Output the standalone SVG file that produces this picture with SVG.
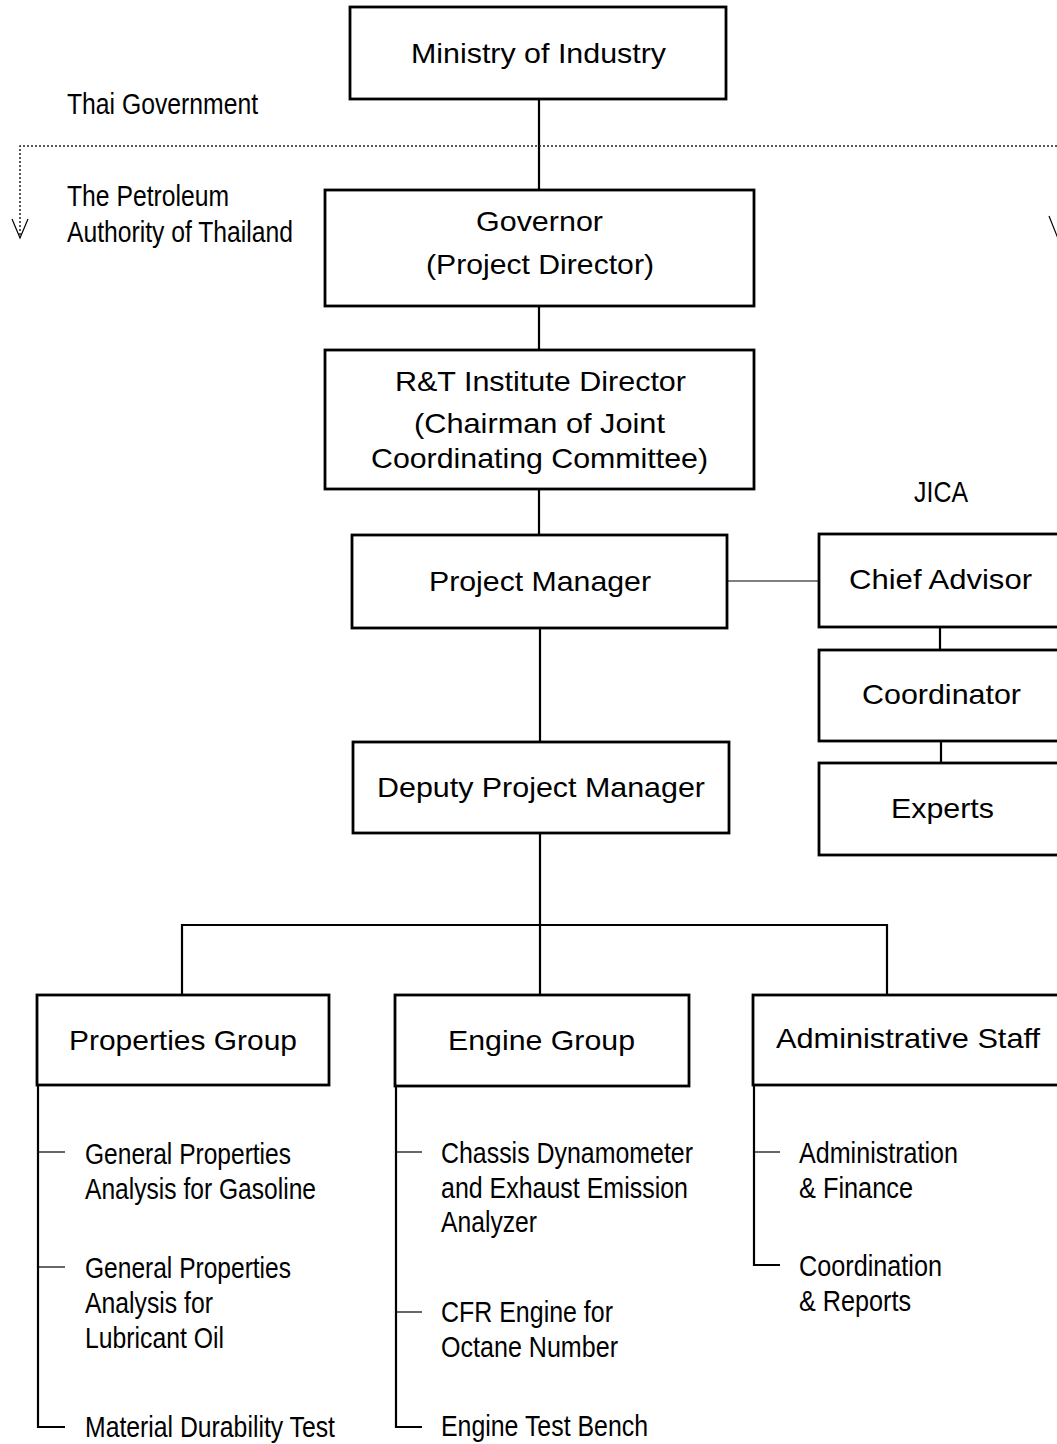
<svg xmlns="http://www.w3.org/2000/svg" width="1057" height="1444" viewBox="0 0 1057 1444">
<style>
.box{fill:#fff;stroke:#000;stroke-width:2.8}
.bt{font-family:"Liberation Sans",Arial,sans-serif;font-size:28px;fill:#000;text-anchor:start}
.lt{font-family:"Liberation Sans",Arial,sans-serif;font-size:29px;fill:#000}
.ln{stroke:#000;stroke-width:2.2;fill:none}
.thin{stroke:#000;stroke-width:1.2;fill:none}
.dot{stroke:#222;stroke-width:1.5;stroke-dasharray:2,2;fill:none}
</style>
<rect width="1057" height="1444" fill="#fff"/>
<g id="connectors">
<line class="ln" x1="539" y1="99" x2="539" y2="190"/>
<line class="ln" x1="539" y1="306" x2="539" y2="350"/>
<line class="ln" x1="539" y1="489" x2="539" y2="535"/>
<line class="ln" x1="540" y1="628" x2="540" y2="742"/>
<line class="thin" x1="727" y1="581" x2="819" y2="581"/>
<line class="ln" x1="940" y1="627" x2="940" y2="650"/>
<line class="ln" x1="941" y1="741" x2="941" y2="763"/>
<line class="ln" x1="540" y1="833" x2="540" y2="995"/>
<polyline class="ln" points="182,995 182,925 887,925 887,995"/>
<polyline class="ln" points="38,1085 38,1427 65,1427"/>
<line class="thin" x1="38" y1="1152" x2="65" y2="1152"/>
<line class="thin" x1="38" y1="1267" x2="65" y2="1267"/>
<polyline class="ln" points="396,1086 396,1427 422,1427"/>
<line class="thin" x1="396" y1="1152" x2="422" y2="1152"/>
<line class="thin" x1="396" y1="1312" x2="422" y2="1312"/>
<polyline class="ln" points="754,1085 754,1265 780,1265"/>
<line class="thin" x1="754" y1="1152" x2="780" y2="1152"/>
<polyline class="dot" points="20,235 20,146 1057,146"/>
<polyline class="thin" points="12,219 20,238 28,219" stroke-width="1.8"/>
<polyline class="thin" points="1049,216 1057,236 1065,216" stroke-width="2.5"/>
</g>
<g id="labels">
<text class="lt" x="67" y="114" textLength="191" lengthAdjust="spacingAndGlyphs">Thai Government</text>
<text class="lt" x="67" y="206" textLength="162" lengthAdjust="spacingAndGlyphs">The Petroleum</text>
<text class="lt" x="67" y="242" textLength="226" lengthAdjust="spacingAndGlyphs">Authority of Thailand</text>
<text class="lt" x="914" y="502" textLength="54" lengthAdjust="spacingAndGlyphs">JICA</text>
</g>
<g id="ministry">
<rect class="box" x="350" y="7" width="376" height="92"/>
<text class="bt" x="411" y="63" textLength="255" lengthAdjust="spacingAndGlyphs">Ministry of Industry</text>
</g>
<g id="governor">
<rect class="box" x="325" y="190" width="429" height="116"/>
<text class="bt" x="476" y="231" textLength="127" lengthAdjust="spacingAndGlyphs">Governor</text>
<text class="bt" x="426" y="274" textLength="228" lengthAdjust="spacingAndGlyphs">(Project Director)</text>
</g>
<g id="rt-director">
<rect class="box" x="325" y="350" width="429" height="139"/>
<text class="bt" x="395" y="391" textLength="291" lengthAdjust="spacingAndGlyphs">R&amp;T Institute Director</text>
<text class="bt" x="414" y="433" textLength="251" lengthAdjust="spacingAndGlyphs">(Chairman of Joint</text>
<text class="bt" x="371" y="468" textLength="337" lengthAdjust="spacingAndGlyphs">Coordinating Committee)</text>
</g>
<g id="project-manager">
<rect class="box" x="352" y="535" width="375" height="93"/>
<text class="bt" x="429" y="591" textLength="222" lengthAdjust="spacingAndGlyphs">Project Manager</text>
</g>
<g id="chief-advisor">
<rect class="box" x="819" y="534" width="260" height="93"/>
<text class="bt" x="849" y="589" textLength="183" lengthAdjust="spacingAndGlyphs">Chief Advisor</text>
</g>
<g id="coordinator">
<rect class="box" x="819" y="650" width="260" height="91"/>
<text class="bt" x="862" y="704" textLength="159" lengthAdjust="spacingAndGlyphs">Coordinator</text>
</g>
<g id="experts">
<rect class="box" x="819" y="763" width="260" height="92"/>
<text class="bt" x="891" y="818" textLength="103" lengthAdjust="spacingAndGlyphs">Experts</text>
</g>
<g id="deputy-pm">
<rect class="box" x="353" y="742" width="376" height="91"/>
<text class="bt" x="377" y="797" textLength="328" lengthAdjust="spacingAndGlyphs">Deputy Project Manager</text>
</g>
<g id="properties-group">
<rect class="box" x="37" y="995" width="292" height="90"/>
<text class="bt" x="69" y="1050" textLength="228" lengthAdjust="spacingAndGlyphs">Properties Group</text>
<text class="lt" x="85" y="1164" textLength="206" lengthAdjust="spacingAndGlyphs">General Properties</text>
<text class="lt" x="85" y="1199" textLength="231" lengthAdjust="spacingAndGlyphs">Analysis for Gasoline</text>
<text class="lt" x="85" y="1278" textLength="206" lengthAdjust="spacingAndGlyphs">General Properties</text>
<text class="lt" x="85" y="1313" textLength="128" lengthAdjust="spacingAndGlyphs">Analysis for</text>
<text class="lt" x="85" y="1348" textLength="139" lengthAdjust="spacingAndGlyphs">Lubricant Oil</text>
<text class="lt" x="85" y="1437" textLength="250" lengthAdjust="spacingAndGlyphs">Material Durability Test</text>
</g>
<g id="engine-group">
<rect class="box" x="395" y="995" width="294" height="91"/>
<text class="bt" x="448" y="1050" textLength="187" lengthAdjust="spacingAndGlyphs">Engine Group</text>
<text class="lt" x="441" y="1163" textLength="252" lengthAdjust="spacingAndGlyphs">Chassis Dynamometer</text>
<text class="lt" x="441" y="1198" textLength="247" lengthAdjust="spacingAndGlyphs">and Exhaust Emission</text>
<text class="lt" x="441" y="1232" textLength="96" lengthAdjust="spacingAndGlyphs">Analyzer</text>
<text class="lt" x="441" y="1322" textLength="172" lengthAdjust="spacingAndGlyphs">CFR Engine for</text>
<text class="lt" x="441" y="1357" textLength="177" lengthAdjust="spacingAndGlyphs">Octane Number</text>
<text class="lt" x="441" y="1436" textLength="207" lengthAdjust="spacingAndGlyphs">Engine Test Bench</text>
</g>
<g id="administrative-staff">
<rect class="box" x="753" y="995" width="326" height="90"/>
<text class="bt" x="776" y="1048" textLength="264" lengthAdjust="spacingAndGlyphs">Administrative Staff</text>
<text class="lt" x="799" y="1163" textLength="159" lengthAdjust="spacingAndGlyphs">Administration</text>
<text class="lt" x="799" y="1198" textLength="114" lengthAdjust="spacingAndGlyphs">&amp; Finance</text>
<text class="lt" x="799" y="1276" textLength="143" lengthAdjust="spacingAndGlyphs">Coordination</text>
<text class="lt" x="799" y="1311" textLength="112" lengthAdjust="spacingAndGlyphs">&amp; Reports</text>
</g>
</svg>
